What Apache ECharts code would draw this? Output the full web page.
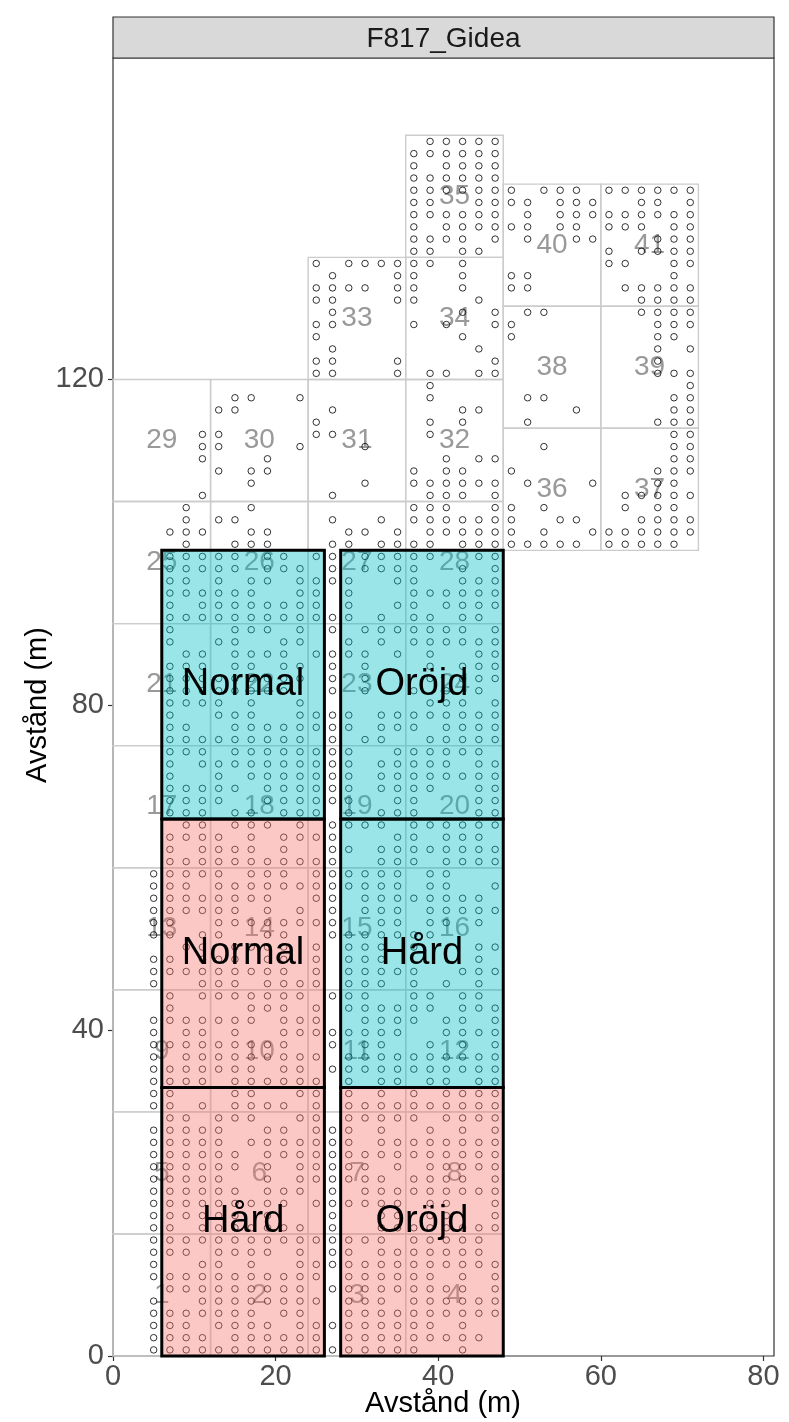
<!DOCTYPE html>
<html><head><meta charset="utf-8">
<script src="https://cdn.jsdelivr.net/npm/echarts@6/dist/echarts.min.js"></script>
<style>html,body{margin:0;padding:0;background:#fff}#c{width:789px;height:1422px}</style>
</head><body><div id="c"></div>
<script>
const panelTitle = 'F817_Gidea';
const xTitle = 'Avstånd (m)';
const yTitle = 'Avstånd (m)';
const xTicks = [0, 20, 40, 60, 80];
const yTicks = [0, 40, 80, 120];

// measurement cells (grey squares)
const cellId = [1,2,3,4,5,6,7,8,9,10,11,12,13,14,15,16,17,18,19,20,21,22,23,24,25,26,27,28,29,30,31,32,33,34,35,36,37,38,39,40,41];
const cellX0 = [0,12,24,36,0,12,24,36,0,12,24,36,0,12,24,36,0,12,24,36,0,12,24,36,0,12,24,36,0,12,24,36,24,36,36,48,60,48,60,48,60];
const cellX1 = [12,24,36,48,12,24,36,48,12,24,36,48,12,24,36,48,12,24,36,48,12,24,36,48,12,24,36,48,12,24,36,48,36,48,48,60,72,60,72,60,72];
const cellY0 = [0,0,0,0,15,15,15,15,30,30,30,30,45,45,45,45,60,60,60,60,75,75,75,75,90,90,90,90,105,105,105,105,120,120,135,99,99,114,114,129,129];
const cellY1 = [15,15,15,15,30,30,30,30,45,45,45,45,60,60,60,60,75,75,75,75,90,90,90,90,105,105,105,105,120,120,120,120,135,135,150,114,114,129,129,144,144];

// treatment blocks
const trtName  = ['Hård','Oröjd','Normal','Hård','Normal','Oröjd'];
const trtGroup = [0,0,0,1,1,1];
const trtX0 = [6,28,6,28,6,28];
const trtX1 = [26,48,26,48,26,48];
const trtY0 = [0,0,33,33,66,66];
const trtY1 = [33,33,66,66,99,99];

// sampling points: one row per y value, x values present in that row
const rowY = [0.75,2.25,3.75,5.25,6.75,8.25,9.75,11.25,12.75,14.25,15.75,17.25,18.75,20.25,21.75,23.25,24.75,26.25,27.75,29.25,30.75,32.25,33.75,35.25,36.75,38.25,39.75,41.25,42.75,44.25,45.75,47.25,48.75,50.25,51.75,53.25,54.75,56.25,57.75,59.25,60.75,62.25,63.75,65.25,66.75,68.25,69.75,71.25,72.75,74.25,75.75,77.25,78.75,80.25,81.75,83.25,84.75,86.25,87.75,89.25,90.75,92.25,93.75,95.25,96.75,98.25,99.75,101.25,102.75,104.25,105.75,107.25,108.75,110.25,111.75,113.25,114.75,116.25,117.75,119.25,120.75,122.25,123.75,125.25,126.75,128.25,129.75,131.25,132.75,134.25,135.75,137.25,138.75,140.25,141.75,143.25,144.75,146.25,147.75,149.25];
const rowX = [
[5,7,9,11,13,15,17,19,21,23,25,27,29,31,33,35,37,43],
[5,7,9,11,15,17,19,21,23,25,29,31,33,35,37,39,41,43,45],
[5,7,9,13,15,17,19,23,25,27,29,31,33,35,37,39,43],
[5,7,9,11,13,15,17,21,23,29,31,33,35,37,39,41,43,45,47],
[5,11,13,15,17,19,21,23,25,29,31,33,37,39,41,43,45,47],
[7,9,11,13,15,17,19,21,23,27,29,31,33,35,37,39,41,43,47],
[5,7,9,11,13,15,17,19,21,23,25,29,31,33,35,37,39,43,47],
[5,11,13,17,23,25,27,29,31,33,35,37,39,41,43,45,47],
[5,7,9,13,15,17,19,23,27,29,33,35,37,39,41,43,45],
[5,7,9,11,13,15,17,19,21,23,25,27,29,31,33,37,39,41,43,45],
[5,7,11,13,15,17,19,21,23,27,33,35,37,39,41,43,45,47],
[5,7,9,11,13,15,19,27,33,35,39,41,47],
[5,7,9,11,13,15,17,19,21,25,27,29,31,33,35,39,41,47],
[5,7,9,11,13,15,19,21,23,27,31,33,35,37,39,41,43,45,47],
[5,7,9,11,13,19,23,25,27,29,31,33,37,39,41,43,47],
[5,7,9,11,13,15,19,23,25,27,29,31,35,39,41,43,45,47],
[5,7,9,11,13,15,19,21,23,25,27,29,31,33,35,37,39,41,43,45,47],
[5,7,9,11,13,17,19,21,23,25,27,29,33,35,37,39,41,43,45,47],
[5,7,9,11,13,19,21,25,27,29,33,39,43,47],
[7,9,13,15,17,23,25,29,31,33,35,37,41,43,45,47],
[5,7,11,15,17,19,21,25,29,31,33,35,37,39,41,43,45,47],
[5,7,15,17,23,25,29,33,37,41,43,45,47],
[5,7,9,11,15,17,19,21,23,25,29,33,35,39,41,45,47],
[5,7,9,11,13,15,17,21,23,27,29,31,33,35,37,39,41,43,45,47],
[5,9,11,13,15,17,19,21,23,25,29,31,33,35,37,39,41,43,45,47],
[5,7,9,11,13,15,17,19,21,27,31,33,39,43,47],
[5,9,11,15,21,23,25,27,29,31,33,35,41,43,45,47],
[5,7,9,11,13,15,17,21,23,25,31,33,35,37,41,43,47],
[7,17,19,21,25,29,31,33,35,37,39,43,45,47],
[7,11,13,15,17,19,21,23,27,29,31,37,39,43,45],
[5,11,13,15,19,21,23,25,29,31,33,37,41,45],
[5,7,9,11,13,15,17,19,21,25,29,31,33,35,37,43,45,47],
[5,7,11,13,15,19,21,25,29,31,33,45],
[9,11,15,17,19,21,25,29,31,33,37,45,47],
[5,7,11,13,19,21,27,29,31,33,35,37,39],
[5,7,13,15,17,19,21,23,25,27,33,35,39,41,45],
[5,7,9,11,13,15,19,23,27,31,33,35,39,41,43,45,47],
[5,7,9,11,13,15,17,19,25,27,31,33,35,37,39,41,43,45],
[5,7,9,13,15,17,19,21,23,25,27,29,31,33,35,39,41,47],
[5,7,9,11,13,17,19,21,25,27,29,31,33,35,39,41],
[7,9,11,13,15,17,19,21,23,25,27,33,35,37,41,43,45,47],
[7,11,13,15,17,21,27,29,33,35,37,39,41,43,45,47],
[7,9,11,13,17,21,23,25,27,35,37,41,43,45],
[9,11,15,17,19,23,27,29,31,33,37,39,41,43,45,47],
[7,9,11,15,17,21,23,25,29,33,35,37,45,47],
[7,9,11,13,19,21,23,25,27,29,35,37,45,47],
[7,9,11,13,15,19,21,23,25,27,29,33,35,37,39,45,47],
[7,13,17,19,21,23,25,27,29,33,35,37,39,41,43,45,47],
[7,11,13,15,17,19,21,23,25,27,29,33,35,37,39,41,45,47],
[7,9,11,15,17,19,21,23,25,27,29,35,37,39,41,43,45],
[7,9,11,13,15,17,19,21,23,27,31,33,39,41,43,45,47],
[7,9,15,17,19,21,23,25,27,29,33,35,37,41,43,45,47],
[7,13,15,17,23,25,27,29,33,35,37,39,41,43,45,47],
[7,9,11,13,17,23,39,41,43,47],
[7,9,11,13,15,17,19,21,27,31,37,41,45],
[7,9,11,13,15,17,19,21,23,27,31,39,43,45,47],
[7,9,11,15,17,21,23,27,31,39,43,45,47],
[9,11,15,17,19,21,25,27,29,31,35,39,45,47],
[7,13,15,21,23,29,33,37,39,41,43,45,47],
[7,15,17,19,23,27,31,33,35,37,39,41,43,47],
[7,9,11,13,15,17,19,21,23,25,27,29,33,37,39,43,45],
[7,11,13,15,17,19,21,23,25,29,35,37,41,43,45,47],
[7,9,11,13,15,17,23,25,29,37,39,41,43,45,47],
[7,9,13,17,19,23,25,27,29,35,37,43,45,47],
[7,9,11,13,15,19,21,23,27,31,33,35,37,43,47],
[7,9,11,13,15,19,21,25,27,31,33,35,37,39,45,47],
[9,15,17,19,27,29,33,35,37,39,43,45,47,49,51,53,55,57,61,63,65,67,69],
[7,9,11,17,19,29,31,35,39,41,43,45,47,49,53,59,61,63,65,67,69,71],
[9,13,15,27,33,37,39,41,43,45,47,49,55,57,65,67,69,71],
[9,17,37,39,41,47,49,53,63,67,69],
[11,27,39,41,43,47,63,65,67,69,71],
[17,31,37,39,41,43,45,47,51,59,67,69],
[13,17,19,37,41,43,49,67,69,71],
[11,19,41,45,47,69,71],
[11,13,23,31,53,69,71],
[11,13,25,27,39,69,71],
[25,39,43,51,67,69,71],
[13,15,27,43,45,57,69,71],
[15,17,23,39,51,53,69,71],
[39,71],
[25,27,35,39,41,45,47,67,69,71],
[25,27,35,47,67],
[27,45,67,71],
[25,43,49,67,69],
[25,27,37,41,47,49,67,69,71],
[27,43,47,51,53,65,67,69,71],
[25,27,35,37,45,65,67,69,71],
[25,27,29,31,35,37,43,49,51,63,65,67,69,71],
[27,35,37,43,49,51,69],
[25,29,31,33,35,37,39,43,61,63,69,71],
[37,39,43,45,61,65,67,69,71],
[37,39,41,43,47,51,57,59,67,69,71],
[37,41,43,45,47,49,51,55,57,61,63,65,69,71],
[37,39,41,43,45,47,51,55,57,59,61,63,65,67,69,71],
[37,39,45,47,49,51,55,57,59,65,67,71],
[37,39,41,43,45,47,49,53,55,57,61,63,65,67,69,71],
[37,39,41,43,45,47],
[37,41,43,45,47],
[37,39,41,43,45,47],
[39,41,43,45,47]
];

const FONT = '"Liberation Sans", Arial, sans-serif';
const trtFill = ['rgba(248,118,109,0.4)', 'rgba(0,191,196,0.4)'];

const points = [];
rowY.forEach((y, i) => rowX[i].forEach(x => points.push([x, y])));

const chart = echarts.init(document.getElementById('c'), null, {renderer: 'canvas'});
chart.setOption({
  animation: false,
  backgroundColor: '#fff',
  grid: {left: 113, top: 58, width: 661, height: 1298, show: true, borderColor: '#333', borderWidth: 1.2, backgroundColor: '#fff'},
  xAxis: {
    type: 'value', min: 0, max: 81.3, interval: 20,
    axisLine: {show: false}, splitLine: {show: false},
    axisTick: {show: true, length: 5, lineStyle: {color: '#333', width: 1.2}},
    axisLabel: {color: '#4D4D4D', fontSize: 29, fontFamily: FONT, margin: 6, showMaxLabel: false,
      formatter: v => xTicks.includes(v) ? String(v) : ''}
  },
  yAxis: {
    type: 'value', min: 0, max: 159.5, interval: 40,
    axisLine: {show: false}, splitLine: {show: false},
    axisTick: {show: true, length: 5, lineStyle: {color: '#333', width: 1.2}},
    axisLabel: {color: '#4D4D4D', fontSize: 29, fontFamily: FONT, margin: 9, showMaxLabel: false,
      formatter: v => yTicks.includes(v) ? String(v) : ''}
  },
  graphic: [
    {type: 'rect', z: 10, shape: {x: 113, y: 17, width: 661, height: 41}, style: {fill: '#D9D9D9', stroke: '#333', lineWidth: 1.2}},
    {type: 'text', z: 11, x: 443.5, y: 39, style: {text: panelTitle, fill: '#1A1A1A', font: '28px ' + FONT, textAlign: 'center', textVerticalAlign: 'middle', align: 'center', verticalAlign: 'middle'}},
    {type: 'text', z: 11, x: 443, y: 1404, style: {text: xTitle, fill: '#000', font: '29px ' + FONT, textAlign: 'center', textVerticalAlign: 'middle', align: 'center', verticalAlign: 'middle'}},
    {type: 'text', z: 11, x: 38, y: 705, rotation: Math.PI / 2, style: {text: yTitle, fill: '#000', font: '29px ' + FONT, textAlign: 'center', textVerticalAlign: 'middle', align: 'center', verticalAlign: 'middle'}}
  ],
  series: [
    {
      type: 'custom', z: 1, silent: true,
      data: cellId.map((id, i) => [cellX0[i], cellY0[i], cellX1[i], cellY1[i], id]),
      encode: {x: [0, 2], y: [1, 3]},
      renderItem: (params, api) => {
        const p0 = api.coord([api.value(0), api.value(1)]);
        const p1 = api.coord([api.value(2), api.value(3)]);
        return {type: 'group', children: [
          {type: 'rect', shape: {x: p0[0], y: p1[1], width: p1[0] - p0[0], height: p0[1] - p1[1]},
            style: {fill: 'none', stroke: '#CCCCCC', lineWidth: 1.4}},
          {type: 'text', x: (p0[0] + p1[0]) / 2, y: (p0[1] + p1[1]) / 2,
            style: {text: String(api.value(4)), fill: '#999999', font: '28px ' + FONT,
              textAlign: 'center', textVerticalAlign: 'middle', align: 'center', verticalAlign: 'middle'}}
        ]};
      }
    },
    {
      type: 'scatter', z: 3, silent: true, data: points,
      symbol: 'circle', symbolSize: 6.5,
      itemStyle: {color: 'rgba(0,0,0,0)', borderColor: '#000', borderWidth: 1}
    },
    {
      type: 'custom', z: 4, silent: true,
      data: trtName.map((n, i) => [trtX0[i], trtY0[i], trtX1[i], trtY1[i], trtGroup[i], n]),
      encode: {x: [0, 2], y: [1, 3]},
      renderItem: (params, api) => {
        const p0 = api.coord([api.value(0), api.value(1)]);
        const p1 = api.coord([api.value(2), api.value(3)]);
        const i = params.dataIndex;
        return {type: 'group', children: [
          {type: 'rect', shape: {x: p0[0], y: p1[1], width: p1[0] - p0[0], height: p0[1] - p1[1]},
            style: {fill: trtFill[trtGroup[i]], stroke: '#000', lineWidth: 3}},
          {type: 'text', x: (p0[0] + p1[0]) / 2, y: (p0[1] + p1[1]) / 2,
            style: {text: trtName[i], fill: '#000', font: '38px ' + FONT,
              textAlign: 'center', textVerticalAlign: 'middle', align: 'center', verticalAlign: 'middle'}}
        ]};
      }
    }
  ]
});
</script>
</body></html>
